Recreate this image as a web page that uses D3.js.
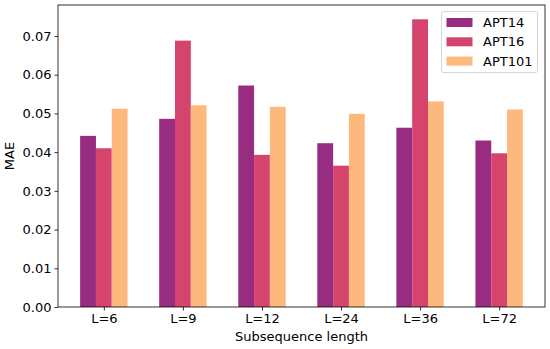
<!doctype html>
<html>
<head>
<meta charset="utf-8">
<script src="https://cdnjs.cloudflare.com/ajax/libs/d3/7.8.5/d3.min.js"></script>
<style>
  body { margin: 0; background: #fff; }
  svg { display: block; font-family: "DejaVu Sans", sans-serif; }
</style>
</head>
<body>
<svg id="chart" width="550" height="349"></svg>
<script>
// data
var categories = ["L=6", "L=9", "L=12", "L=24", "L=36", "L=72"];
var seriesNames = ["APT14", "APT16", "APT101"];
var apt14  = [0.0442, 0.0486, 0.0572, 0.0423, 0.0463, 0.0430];
var apt16  = [0.0410, 0.0688, 0.0393, 0.0365, 0.0743, 0.0397];
var apt101 = [0.0512, 0.0521, 0.0517, 0.0499, 0.0531, 0.0510];
var yTicks = [0, 0.01, 0.02, 0.03, 0.04, 0.05, 0.06, 0.07];
var colors = ["#972c80", "#d4446d", "#fdb97d"];

var series = [apt14, apt16, apt101];

// plot area (window.top is reserved, so use a prefix)
var plotL = 58, plotR = 545, plotT = 5, plotB = 307;
var fs = 13;
var svg = d3.select("#chart");

var barW = 0.2;
var x = d3.scaleLinear().domain([-0.58, 5.58]).range([plotL, plotR]);
var y = d3.scaleLinear().domain([0, 0.078]).range([plotB, plotT]);

// bars
series.forEach(function(vals, si) {
    svg.append("g")
        .selectAll("rect")
        .data(vals)
        .enter()
        .append("rect")
        .attr("x", (d, i) => x(i + (si - 1) * barW - barW / 2))
        .attr("width", x(barW) - x(0))
        .attr("y", d => y(d))
        .attr("height", d => y(0) - y(d))
        .attr("fill", colors[si]);
});

// axes
var xAxis = d3.axisBottom(x)
    .tickValues(d3.range(categories.length))
    .tickFormat(i => categories[i])
    .tickSize(3.5).tickPadding(3);
var yAxis = d3.axisLeft(y)
    .tickValues(yTicks)
    .tickFormat(d3.format(".2f"))
    .tickSize(3.5).tickPadding(3);

svg.append("g")
    .attr("transform", "translate(0," + plotB + ")")
    .call(xAxis)
    .call(g => g.select(".domain").remove());
svg.append("g")
    .attr("transform", "translate(" + plotL + ",0)")
    .call(yAxis)
    .call(g => g.select(".domain").remove());

svg.selectAll(".tick text").attr("font-size", fs).attr("font-family", "DejaVu Sans").attr("fill", "#000");
svg.selectAll(".tick line").attr("stroke", "#000").attr("stroke-width", 0.8);

// frame
svg.append("rect")
    .attr("x", plotL).attr("y", plotT)
    .attr("width", plotR - plotL).attr("height", plotB - plotT)
    .attr("fill", "none").attr("stroke", "#000").attr("stroke-width", 0.8);

// axis labels
svg.append("text")
    .attr("x", (plotL + plotR) / 2).attr("y", 341)
    .attr("text-anchor", "middle").attr("font-size", fs)
    .text("Subsequence length");
svg.append("text")
    .attr("transform", "translate(14," + (plotT + plotB) / 2 + ") rotate(-90)")
    .attr("text-anchor", "middle").attr("font-size", fs)
    .text("MAE");

// legend
var lg = svg.append("g").attr("transform", "translate(441.5,11.5)");
lg.append("rect")
    .attr("width", 96).attr("height", 61).attr("rx", 2)
    .attr("fill", "#fff").attr("fill-opacity", 0.8)
    .attr("stroke", "#ccc").attr("stroke-width", 0.8);
seriesNames.forEach(function(name, i) {
    lg.append("rect")
        .attr("x", 5).attr("y", 6.5 + i * 19.3)
        .attr("width", 26).attr("height", 9)
        .attr("fill", colors[i]);
    lg.append("text")
        .attr("x", 41.5).attr("y", 11 + i * 19.3)
        .attr("dy", "0.35em").attr("font-size", fs)
        .text(name);
});
</script>
</body>
</html>
